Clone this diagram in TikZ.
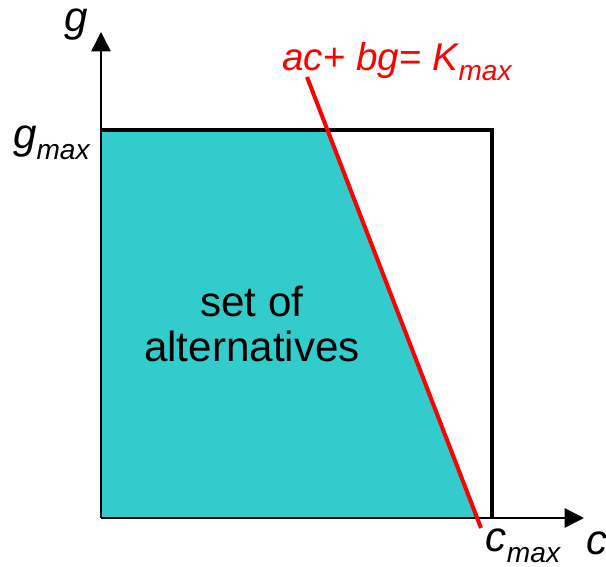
\documentclass[tikz,border=0pt]{standalone}
\usepackage{fontspec}
\setmainfont{Liberation Sans}
\usetikzlibrary{arrows.meta}
\definecolor{setcyan}{RGB}{51,204,204}
\definecolor{budgetred}{RGB}{255,0,0}

\newcommand{\lowsub}[1]{\raisebox{-0.5ex}{\fontsize{16}{16}\selectfont\itshape #1}}

\begin{document}
\begin{tikzpicture}[
    x=0.02cm, y=-0.02cm,
    axis/.style={
        line width=0.9pt,
        -{Triangle[length=11pt, width=11pt]}
    },
    frame/.style={
        line width=2.4pt
    },
    budget/.style={
        draw=budgetred,
        line width=2.3pt
    },
    lbl/.style={
        font=\fontsize{24}{26}\selectfont\itshape,
        inner sep=0pt
    }
]

\useasboundingbox (0,0) rectangle (606,567);

% ============================================================
% Points
% ============================================================

\coordinate (origin) at (101,518);
\coordinate (gtip) at (101,32);
\coordinate (ctip) at (584,518);
\coordinate (topleft) at (101,130);
\coordinate (topright) at (492,130);
\coordinate (botright) at (492,518);
\coordinate (ktop) at (307,77);
\coordinate (kbot) at (481,528);


% ============================================================
% Set of alternatives
% ============================================================

\fill[setcyan] (origin) -- (topleft) -- (327.5,130) -- (477,518) -- cycle;

\draw[frame] (topleft) -- (topright) -- (botright);

\node[font=\fontsize{24}{26}\selectfont, align=center] (alts) at (252,324)
{set of\\alternatives};


% ============================================================
% Axes
% ============================================================

\draw[axis] (origin) -- (gtip);
\draw[axis] (origin) -- (ctip);

\node[lbl] (glabel) at (76,25) {g};
\node[lbl] (clabel) at (597,543) {c};

\node[lbl, anchor=east] (gmax) at (90,143)
{g\lowsub{max}};

\node[lbl] (cmax) at (523,546)
{c\lowsub{max}};


% ============================================================
% Budget line
% ============================================================

\draw[budget] (ktop) -- (kbot);

\node[lbl, text=budgetred, font=\fontsize{22}{24}\selectfont\itshape] (budgetlabel) at (397,62)
{ac\upshape+ \itshape bg\upshape= \itshape K\lowsub{max}};

\end{tikzpicture}
\end{document}
